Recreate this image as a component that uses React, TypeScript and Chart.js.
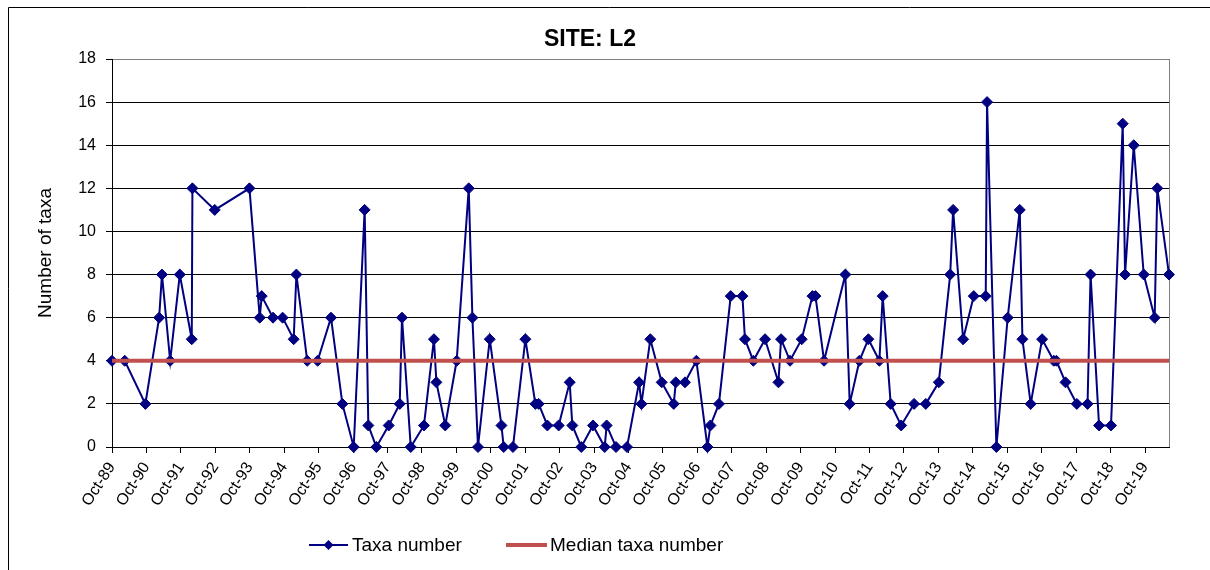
import React, { useEffect, useRef } from 'react';
import { Chart, registerables } from 'chart.js';

Chart.register(...registerables);

const CHART_TITLE = 'SITE: L2';
const Y_AXIS_TITLE = 'Number of taxa';
const SERIES_LABEL = 'Taxa number';
const MEDIAN_LABEL = 'Median taxa number';

const START_DATE = '1989-10-01';

const sampleDates = [
  '1989-10-01', '1990-02-13', '1990-09-20', '1991-02-13', '1991-03-15', '1991-06-10', '1991-09-20', '1992-01-25', '1992-02-01', '1992-09-25',
  '1993-09-28', '1994-01-15', '1994-02-05', '1994-06-05', '1994-09-15', '1995-01-10', '1995-02-08', '1995-06-03', '1995-09-21', '1996-02-10',
  '1996-06-10', '1996-10-08', '1997-02-01', '1997-03-12', '1997-06-05', '1997-10-14', '1998-02-08', '1998-03-04', '1998-06-05', '1998-10-23',
  '1999-02-06', '1999-03-04', '1999-06-06', '1999-10-05', '2000-02-10', '2000-03-20', '2000-05-18', '2000-09-20', '2001-01-22', '2001-02-15',
  '2001-05-24', '2001-10-03', '2002-01-17', '2002-02-21', '2002-05-24', '2002-09-21', '2003-01-16', '2003-02-13', '2003-05-19', '2003-09-20',
  '2004-01-22', '2004-02-12', '2004-05-21', '2004-09-15', '2005-01-21', '2005-02-15', '2005-05-20', '2005-09-18', '2006-01-24', '2006-02-14',
  '2006-05-23', '2006-09-21', '2007-01-16', '2007-02-17', '2007-05-18', '2007-09-20', '2008-01-22', '2008-02-18', '2008-05-17', '2008-09-18',
  '2009-02-07', '2009-03-07', '2009-06-10', '2009-10-12', '2010-02-03', '2010-03-07', '2010-06-06', '2011-01-18', '2011-03-05', '2011-06-16',
  '2011-09-19', '2012-01-14', '2012-02-18', '2012-05-13', '2012-09-01', '2013-01-16', '2013-05-20', '2013-10-05', '2014-02-03', '2014-03-06',
  '2014-06-20', '2014-10-11', '2015-02-15', '2015-03-01', '2015-06-08', '2015-10-06', '2016-02-11', '2016-03-10', '2016-06-06', '2016-10-05',
  '2017-02-06', '2017-03-06', '2017-06-10', '2017-10-08', '2018-01-30', '2018-03-03', '2018-06-01', '2018-10-06', '2019-02-07', '2019-03-04',
  '2019-06-04', '2019-09-18', '2020-01-12', '2020-02-09', '2020-06-12',
];

const taxaNumbers = [
  4, 4, 2, 6, 8, 4, 8, 5, 12, 11,
  12, 6, 7, 6, 6, 5, 8, 4, 4, 6,
  2, 0, 11, 1, 0, 1, 2, 6, 0, 1,
  5, 3, 1, 4, 12, 6, 0, 5, 1, 0,
  0, 5, 2, 2, 1, 1, 3, 1, 0, 1,
  0, 1, 0, 0, 3, 2, 5, 3, 2, 3,
  3, 4, 0, 1, 2, 7, 7, 5, 4, 5,
  3, 5, 4, 5, 7, 7, 4, 8, 2, 4,
  5, 4, 7, 2, 1, 2, 2, 3, 8, 11,
  5, 7, 7, 16, 0, 6, 11, 5, 2, 5,
  4, 4, 3, 2, 2, 8, 1, 1, 15, 8,
  14, 8, 6, 12, 8,
];

const MEDIAN_TAXA = 4;

const xTickLabels = [
  'Oct-89', 'Oct-90', 'Oct-91', 'Oct-92', 'Oct-93', 'Oct-94', 'Oct-95', 'Oct-96', 'Oct-97', 'Oct-98',
  'Oct-99', 'Oct-00', 'Oct-01', 'Oct-02', 'Oct-03', 'Oct-04', 'Oct-05', 'Oct-06', 'Oct-07', 'Oct-08',
  'Oct-09', 'Oct-10', 'Oct-11', 'Oct-12', 'Oct-13', 'Oct-14', 'Oct-15', 'Oct-16', 'Oct-17', 'Oct-18',
  'Oct-19',
];

const Y_MIN = 0;
const Y_MAX = 18;
const Y_STEP = 2;

const FONT_FAMILY = '"Liberation Sans", Arial, Helvetica, sans-serif';
const NAVY = '#000080';
const RED = '#C0504D';

const YEAR_MS = 365.25 * 24 * 3600 * 1000;
const yearsSinceStart = (d: string) => (Date.parse(d) - Date.parse(START_DATE)) / YEAR_MS;

const decorPlugin = {
  id: 'decor',
  beforeDatasetsDraw(chart: any) {
    const { ctx, chartArea: a } = chart;
    ctx.save();
    ctx.lineWidth = 1;
    ctx.strokeStyle = '#000';
    ctx.beginPath();
    ctx.moveTo(0.5, chart.height);
    ctx.lineTo(0.5, 0.5);
    ctx.lineTo(chart.width, 0.5);
    ctx.stroke();
    ctx.strokeStyle = '#808080';
    const rx = Math.round(a.right) + 0.5;
    ctx.beginPath();
    ctx.moveTo(rx, a.top);
    ctx.lineTo(rx, a.bottom);
    ctx.stroke();
    ctx.restore();
  },
  afterDraw(chart: any) {
    const { ctx } = chart;
    ctx.save();
    ctx.fillStyle = '#000';
    ctx.textBaseline = 'middle';
    ctx.textAlign = 'center';
    ctx.font = `bold 23px ${FONT_FAMILY}`;
    ctx.fillText(CHART_TITLE, 582, 33);

    const ly = 538;
    ctx.font = `19px ${FONT_FAMILY}`;
    ctx.textAlign = 'left';
    // series legend
    ctx.strokeStyle = NAVY;
    ctx.lineWidth = 2;
    ctx.beginPath();
    ctx.moveTo(301, ly);
    ctx.lineTo(340, ly);
    ctx.stroke();
    ctx.fillStyle = NAVY;
    ctx.beginPath();
    const cx = 320.5;
    const r = 5;
    ctx.moveTo(cx, ly - r);
    ctx.lineTo(cx + r, ly);
    ctx.lineTo(cx, ly + r);
    ctx.lineTo(cx - r, ly);
    ctx.closePath();
    ctx.fill();
    ctx.fillStyle = '#000';
    ctx.fillText(SERIES_LABEL, 344, ly + 1);
    // median legend
    ctx.strokeStyle = RED;
    ctx.lineWidth = 4;
    ctx.beginPath();
    ctx.moveTo(498, ly);
    ctx.lineTo(539, ly);
    ctx.stroke();
    ctx.fillText(MEDIAN_LABEL, 542, ly + 1);
    ctx.restore();
  },
};

export default function App() {
  const canvasRef = useRef<HTMLCanvasElement | null>(null);

  useEffect(() => {
    const canvas = canvasRef.current;
    if (!canvas) return;
    const xs = sampleDates.map(yearsSinceStart);
    const lastX = xs[xs.length - 1];
    const taxaPoints = xs.map((x, i) => ({ x, y: taxaNumbers[i] }));
    const medianPoints = [
      { x: 0, y: MEDIAN_TAXA },
      { x: lastX, y: MEDIAN_TAXA },
    ];

    const chart = new Chart(canvas, {
      type: 'line',
      data: {
        datasets: [
          {
            label: MEDIAN_LABEL,
            data: medianPoints,
            borderColor: RED,
            backgroundColor: RED,
            borderWidth: 4,
            pointRadius: 0,
            order: 0,
          },
          {
            label: SERIES_LABEL,
            data: taxaPoints,
            borderColor: NAVY,
            backgroundColor: NAVY,
            borderWidth: 2,
            pointStyle: 'rectRot',
            pointRadius: 5.5,
            pointBorderWidth: 1,
            pointBackgroundColor: NAVY,
            pointBorderColor: NAVY,
            tension: 0,
            clip: false as any,
            order: 1,
          },
        ],
      },
      options: {
        responsive: false,
        animation: false,
        events: [],
        layout: { padding: { top: 52, right: 41, left: 0, bottom: 0 } },
        plugins: {
          legend: { display: false },
          title: { display: false },
          tooltip: { enabled: false },
        },
        scales: {
          x: {
            type: 'linear',
            min: 0,
            max: lastX,
            afterFit: (s: any) => {
              s.height = 123;
            },
            afterBuildTicks: (s: any) => {
              s.ticks = xTickLabels.map((_, i) => ({ value: i }));
            },
            grid: {
              drawOnChartArea: false,
              drawTicks: true,
              tickLength: 6,
              tickColor: '#000',
            },
            border: { display: true, color: '#000', width: 1 },
            ticks: {
              autoSkip: false,
              minRotation: 57,
              maxRotation: 57,
              padding: 6,
              color: '#000',
              font: { size: 16, family: FONT_FAMILY },
              callback: (v: any) => xTickLabels[Math.round(Number(v))] ?? '',
            },
          },
          y: {
            min: Y_MIN,
            max: Y_MAX,
            afterFit: (s: any) => {
              s.width = 104;
            },
            grid: {
              color: (c: any) => (c.tick && c.tick.value === Y_MAX ? '#808080' : '#000'),
              lineWidth: 1,
              tickLength: 6,
              tickColor: '#000',
            },
            border: { display: true, color: '#000', width: 1 },
            ticks: {
              stepSize: Y_STEP,
              padding: 10,
              color: '#000',
              font: { size: 16, family: FONT_FAMILY },
            },
            title: {
              display: true,
              text: Y_AXIS_TITLE,
              color: '#000',
              font: { size: 19, family: FONT_FAMILY },
              padding: { top: 26, bottom: 0 },
            },
          },
        },
      },
      plugins: [decorPlugin],
    });

    return () => chart.destroy();
  }, []);

  return (
    <div style={{ position: 'absolute', left: 8, top: 7, width: 1202, height: 563 }}>
      <canvas ref={canvasRef} width={1202} height={563} style={{ display: 'block', width: 1202, height: 563 }} />
    </div>
  );
}
